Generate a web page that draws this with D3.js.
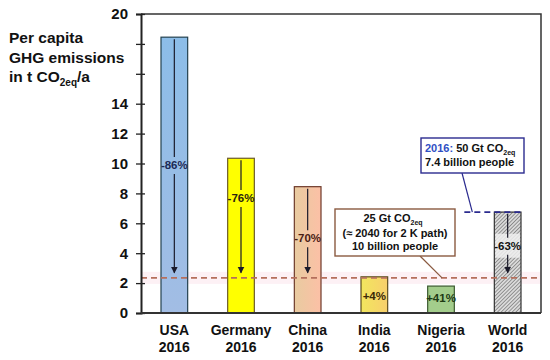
<!DOCTYPE html>
<html>
<head>
<meta charset="utf-8">
<script src="https://cdn.jsdelivr.net/npm/d3@7"></script>
<style>
  body { margin: 0; background: #fff; }
  svg { display: block; font-family: "Liberation Sans", Arial, sans-serif; font-weight: bold; }
</style>
</head>
<body>
<svg id="chart" width="550" height="360"></svg>
<script>
// data
const categories = ["USA", "Germany", "China", "India", "Nigeria", "World"];
const years = ["2016", "2016", "2016", "2016", "2016", "2016"];
const values = [18.45, 10.35, 8.45, 2.42, 1.8, 6.75];
const changes = ["-86%", "-76%", "-70%", "+4%", "+41%", "-63%"];
const labelAt = [9.9, 7.7, 5.0, 1.15, 1.0, 4.5];
const hasArrow = [true, true, true, false, false, true];
const target = 2.35;
const yTicks = [0, 2, 4, 6, 8, 10, 12, 14, 16, 18, 20];
const yTickLabels = ["0", "2", "4", "6", "8", "10", "12", "14", "", "", "20"];

const fills = ["url(#gUSA)", "#ffff00", "url(#gChina)", "url(#gIndia)", "#a3cd8c", "url(#hatch)"];
const strokes = ["#23414f", "#6b5a2a", "#6e3a2a", "#5e4e1e", "#3c5a30", "#333"];
const labelColors = ["#1b2a55", "#2a2410", "#4a1c14", "#3a2a08", "#1e3a14", "#111"];

const svg = d3.select("#chart");
const mLeft = 141, mRight = 541, mTop = 14, mBottom = 313;

const x = d3.scaleBand().domain(categories).range([mLeft, mRight]).paddingInner(0.6).paddingOuter(0.3);
const y = d3.scaleLinear().domain([0, 20]).range([mBottom, mTop]);

// defs: gradients, hatch, arrow
const defs = svg.append("defs");
function grad(id, c1, c2, vertical) {
  const g = defs.append("linearGradient").attr("id", id)
    .attr("x1", 0).attr("y1", 0).attr("x2", vertical ? 0 : 1).attr("y2", vertical ? 1 : 0);
  g.append("stop").attr("offset", "0%").attr("stop-color", c1);
  g.append("stop").attr("offset", "100%").attr("stop-color", c2);
}
grad("gUSA", "#8cbde8", "#a2bde4", true);
grad("gChina", "#e8cba0", "#fcc0a6", false);
grad("gIndia", "#f1e65e", "#f8cf6c", false);

const hatch = defs.append("pattern").attr("id", "hatch").attr("patternUnits", "userSpaceOnUse")
  .attr("width", 2.6).attr("height", 2.6).attr("patternTransform", "rotate(45)");
hatch.append("rect").attr("width", 2.6).attr("height", 2.6).attr("fill", "#dadada");
hatch.append("line").attr("x1", 0).attr("y1", 0).attr("x2", 0).attr("y2", 2.6)
  .attr("stroke", "#5a5a5a").attr("stroke-width", 1.1);

defs.append("marker").attr("id", "arrow").attr("viewBox", "0 0 10 10")
  .attr("refX", 9).attr("refY", 5).attr("markerWidth", 7).attr("markerHeight", 9)
  .attr("markerUnits", "userSpaceOnUse").attr("orient", "auto")
  .append("path").attr("d", "M0,0 L10,5 L0,10 z").attr("fill", "#1a1a2a");

// faint pink band around the target line
svg.append("rect").attr("x", mLeft).attr("width", mRight - mLeft)
  .attr("y", y(target) - 6).attr("height", 12).attr("fill", "#fdf1f5");

// frame top and right
svg.append("path")
  .attr("d", `M${mLeft},${mTop} H${mRight} V${mBottom}`)
  .attr("fill", "none").attr("stroke", "#333").attr("stroke-width", 1.5);

// bars
svg.selectAll(".bar").data(categories).join("rect")
  .attr("class", "bar")
  .attr("x", d => x(d))
  .attr("width", x.bandwidth())
  .attr("y", (d, i) => y(values[i]))
  .attr("height", (d, i) => y(0) - y(values[i]))
  .attr("fill", (d, i) => fills[i])
  .attr("stroke", (d, i) => strokes[i])
  .attr("stroke-width", 1.2);

// target dashed line
svg.append("line")
  .attr("x1", mLeft).attr("x2", mRight)
  .attr("y1", y(target)).attr("y2", y(target))
  .attr("stroke", "#b56f5c").attr("stroke-width", 1.6).attr("stroke-dasharray", "6,4");

// arrows with gap around labels
categories.forEach((c, i) => {
  if (!hasArrow[i]) return;
  const cx = x(c) + x.bandwidth() / 2;
  const ly = y(labelAt[i]);
  if (i === 5) {
    svg.append("rect").attr("x", x(c) + 1).attr("width", x.bandwidth() - 2)
      .attr("y", ly - 12).attr("height", 24).attr("fill", "#efefef").attr("opacity", 0.85);
  }
  svg.append("line").attr("x1", cx).attr("x2", cx)
    .attr("y1", y(values[i]) + 2).attr("y2", ly - 8)
    .attr("stroke", "#1a1a2a").attr("stroke-width", 1.2);
  svg.append("line").attr("x1", cx).attr("x2", cx)
    .attr("y1", ly + 9).attr("y2", y(target) - 5)
    .attr("stroke", "#1a1a2a").attr("stroke-width", 1.2)
    .attr("marker-end", "url(#arrow)");
});

// change labels
svg.selectAll(".chg").data(categories).join("text")
  .attr("class", "chg")
  .attr("x", d => x(d) + x.bandwidth() / 2)
  .attr("y", (d, i) => y(labelAt[i]))
  .attr("dy", "0.35em")
  .attr("text-anchor", "middle")
  .attr("font-size", 11.5)
  .attr("fill", (d, i) => labelColors[i])
  .text((d, i) => changes[i]);

// y axis
const yAxis = svg.append("g").attr("transform", `translate(${mLeft},0)`)
  .call(d3.axisLeft(y).tickValues(yTicks).tickSize(5).tickPadding(8)
    .tickFormat((d, i) => yTickLabels[i]));
yAxis.select(".domain").attr("stroke", "#222").attr("stroke-width", 2);
yAxis.selectAll(".tick line").attr("stroke", "#222").attr("stroke-width", 1.3);
yAxis.selectAll("text").attr("font-size", 15).attr("font-weight", "bold")
  .attr("font-family", "Liberation Sans, Arial, sans-serif").attr("fill", "#111");
svg.append("g").attr("transform", `translate(${mLeft},0)`)
  .call(d3.axisRight(y).tickValues(yTicks).tickSize(4).tickFormat(""))
  .call(g => g.select(".domain").remove())
  .selectAll(".tick line").attr("stroke", "#222").attr("stroke-width", 1.3);

// x axis baseline
svg.append("line").attr("x1", mLeft).attr("x2", mRight)
  .attr("y1", y(0)).attr("y2", y(0)).attr("stroke", "#333").attr("stroke-width", 2);

// x labels
const xl = svg.selectAll(".xl").data(categories).join("text")
  .attr("class", "xl")
  .attr("x", d => x(d) + x.bandwidth() / 2)
  .attr("text-anchor", "middle").attr("font-size", 14).attr("fill", "#111");
xl.append("tspan").attr("x", d => x(d) + x.bandwidth() / 2).attr("y", 335).text(d => d);
xl.append("tspan").attr("x", d => x(d) + x.bandwidth() / 2).attr("y", 352).text((d, i) => years[i]);

// y title
const yt = svg.append("text").attr("font-size", 15.5).attr("fill", "#111");
yt.append("tspan").attr("x", 9).attr("y", 43).text("Per capita");
yt.append("tspan").attr("x", 9).attr("y", 63).text("GHG emissions");
yt.append("tspan").attr("x", 9).attr("y", 82).text("in t CO");
yt.append("tspan").attr("font-size", 10).attr("dy", 4).text("2eq");
yt.append("tspan").attr("dy", -4).text("/a");

// annotation: world 2016
const wx = x("World");
svg.append("line").attr("x1", wx - 30).attr("x2", wx + x.bandwidth() + 2)
  .attr("y1", y(values[5])).attr("y2", y(values[5]))
  .attr("stroke", "#2b2b8f").attr("stroke-width", 1.6).attr("stroke-dasharray", "6,4");
svg.append("line").attr("x1", 462).attr("y1", 173).attr("x2", wx - 22).attr("y2", y(values[5]))
  .attr("stroke", "#2b2b8f").attr("stroke-width", 1.2);
svg.append("rect").attr("x", 421).attr("y", 138).attr("width", 103).attr("height", 35)
  .attr("fill", "#fff").attr("stroke", "#2b2b8f").attr("stroke-width", 1.4);
const a1 = svg.append("text").attr("font-size", 11).attr("fill", "#111");
a1.append("tspan").attr("x", 425).attr("y", 152).attr("fill", "#2f4fc4").text("2016:");
a1.append("tspan").text(" 50 Gt CO");
a1.append("tspan").attr("font-size", 7).attr("dy", 2.5).text("2eq");
svg.append("text").attr("font-size", 11).attr("fill", "#111")
  .attr("x", 425).attr("y", 166).text("7.4 billion people");

// annotation: 2 K path
svg.append("line").attr("x1", 420).attr("y1", 256).attr("x2", 442).attr("y2", y(target))
  .attr("stroke", "#8a5a40").attr("stroke-width", 1.2);
svg.append("rect").attr("x", 335).attr("y", 209).attr("width", 120).attr("height", 47)
  .attr("fill", "#fff").attr("stroke", "#8a5a40").attr("stroke-width", 1.4);
const a2 = svg.append("text").attr("font-size", 11).attr("fill", "#111").attr("text-anchor", "middle");
a2.append("tspan").attr("x", 393).attr("y", 222).text("25 Gt CO");
a2.append("tspan").attr("font-size", 7).attr("dy", 2.5).text("2eq");
svg.append("text").attr("font-size", 11).attr("fill", "#111").attr("text-anchor", "middle")
  .attr("x", 395).attr("y", 237).text("(\u2248 2040 for 2 K path)");
svg.append("text").attr("font-size", 11).attr("fill", "#111").attr("text-anchor", "middle")
  .attr("x", 395).attr("y", 250).text("10 billion people");
</script>
</body>
</html>
